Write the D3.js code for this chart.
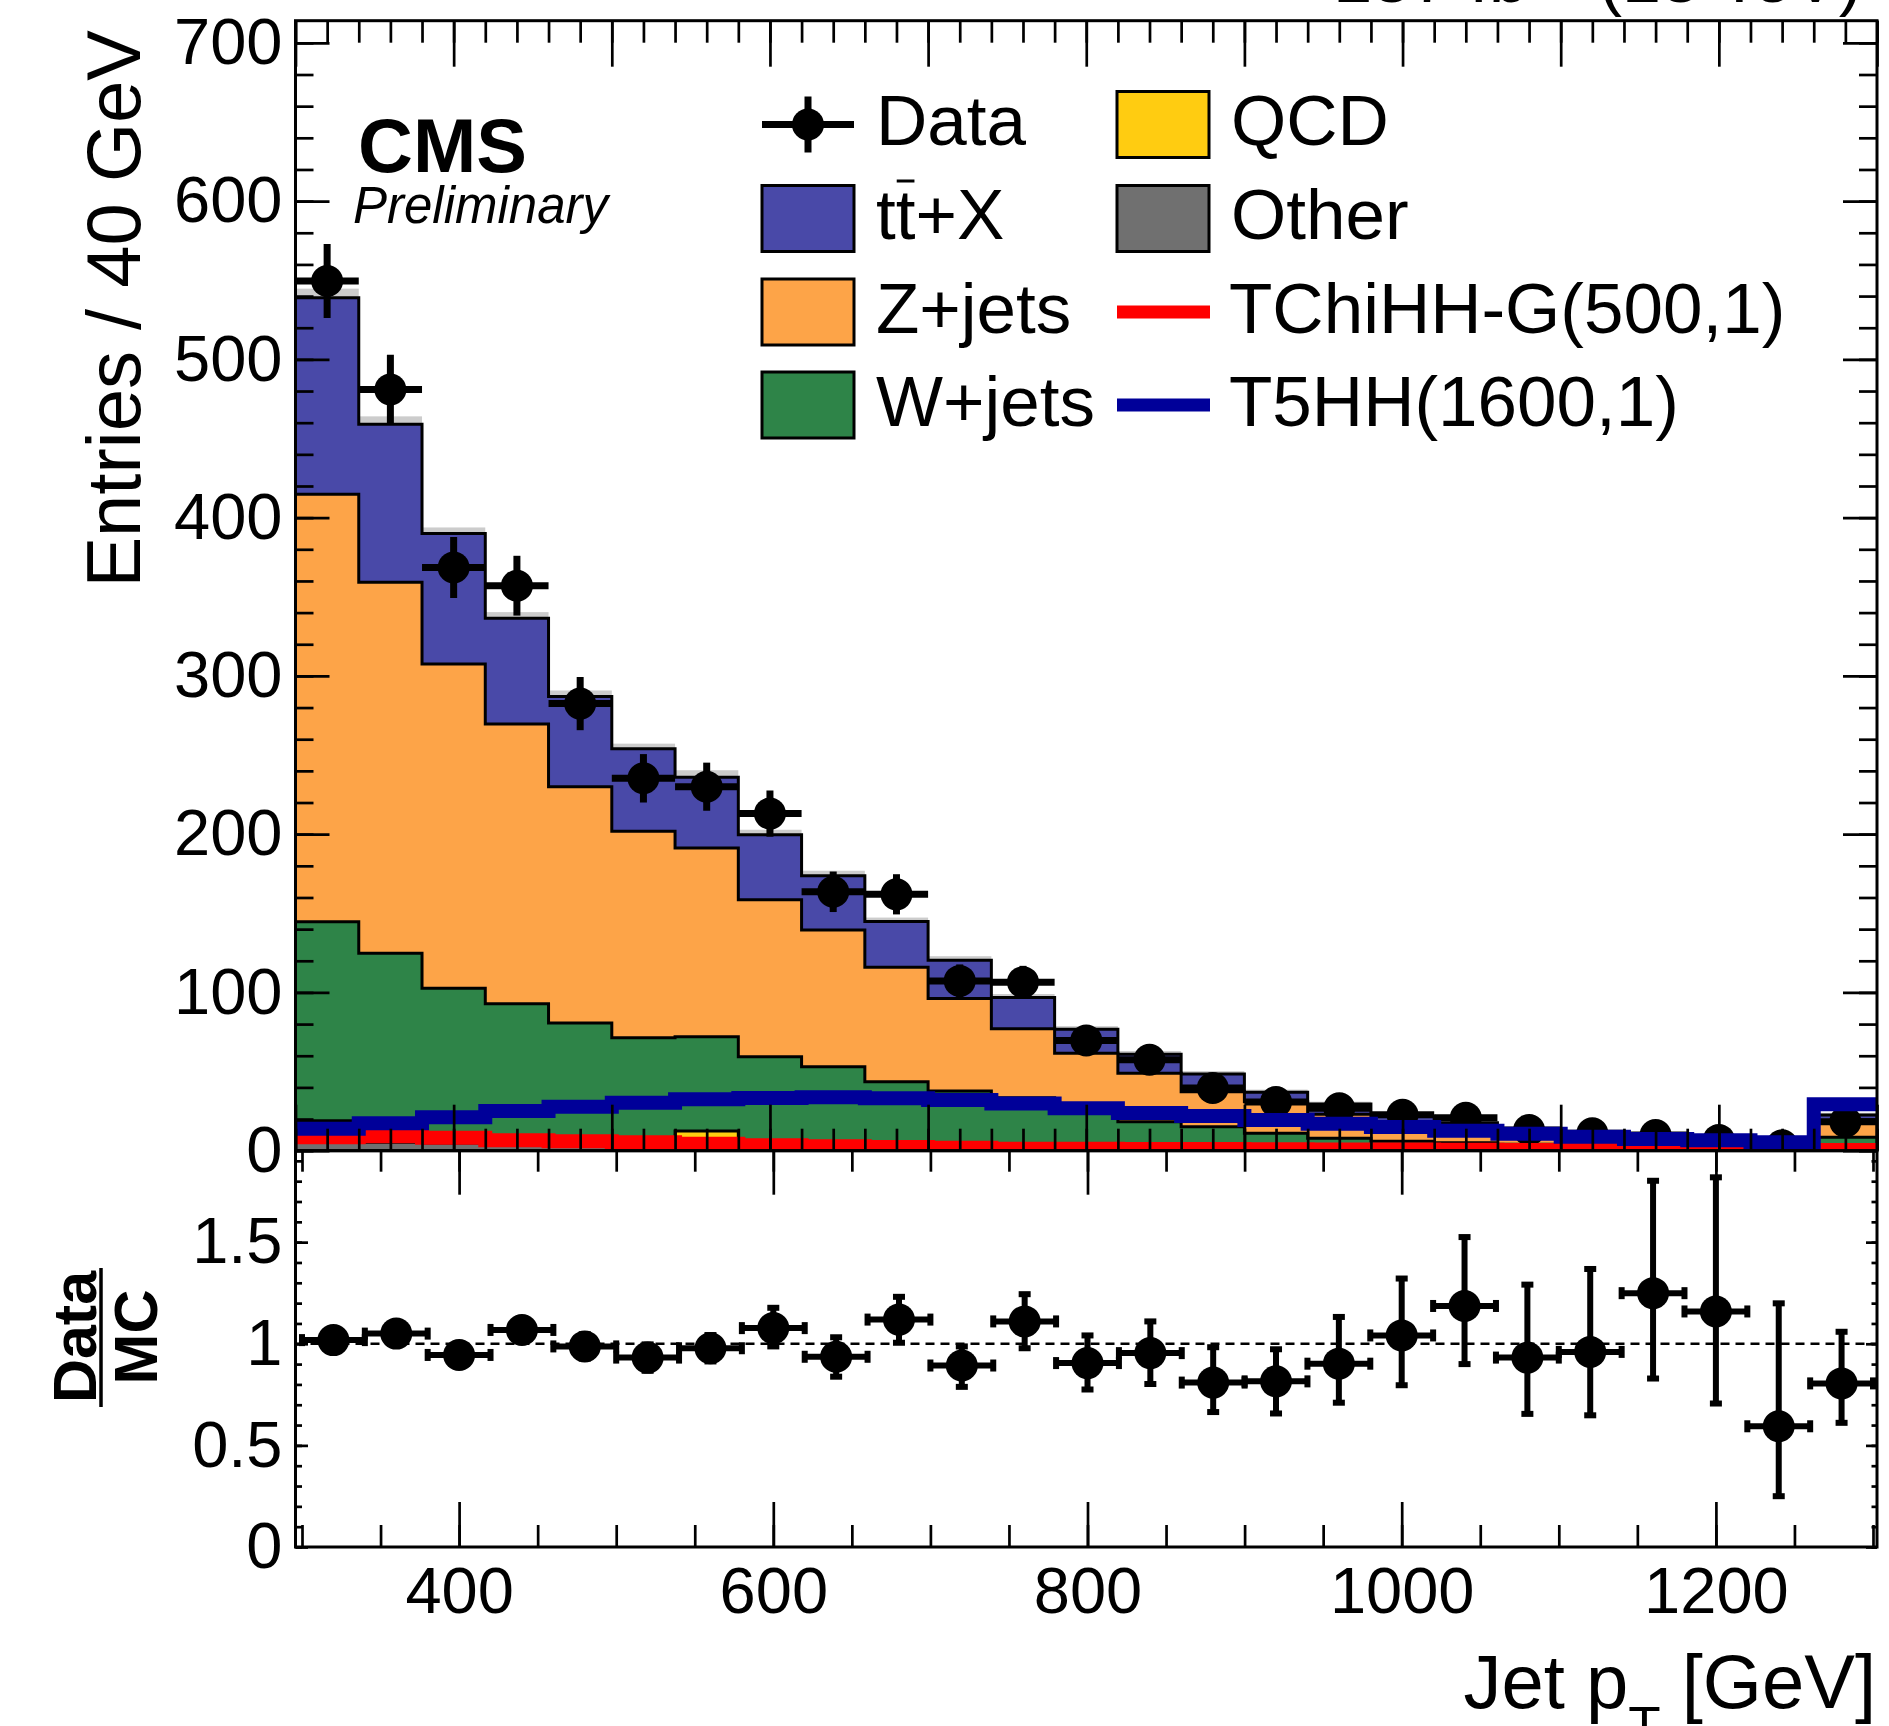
<!DOCTYPE html>
<html>
<head>
<meta charset="utf-8">
<script src="https://cdn.jsdelivr.net/npm/d3@7"></script>
<style>
body { margin: 0; background: #fff; }
svg { display: block; font-family: "Liberation Sans", Arial, Helvetica, sans-serif; }
</style>
</head>
<body>
<svg id="chart" width="1889" height="1726"></svg>
<script>
// bins of jet pT, 40 GeV wide, last one holds the overflow
var binLow = [300, 340, 380, 420, 460, 500, 540, 580, 620, 660, 700, 740, 780,
              820, 860, 900, 940, 980, 1020, 1060, 1100, 1140, 1180, 1220, 1260];
var binWidth = 40;

// background components (entries per bin)
var other = [4, 3.5, 3, 2.5, 2, 1.5, 1.5, 1.2, 1, 1, 0.8, 0.7, 0.6, 0.5, 0.5, 0.4, 0.3, 0.3, 0.3, 0.2, 0.2, 0.2, 0.1, 0.1, 0.5];
var qcd = [15, 1, 1, 1, 1, 1, 10.9, 0.8, 0.8, 0.5, 0.5, 0.5, 0.4, 0.4, 0.3, 0.3, 0.3, 0.2, 0.2, 0.2, 0.2, 0.1, 0.2, 0.1, 0.5];
var wjets = [125.6, 120.3, 98.7, 89.3, 77.7, 68.9, 59.6, 57.4, 51.3, 42.1, 36.4, 32.3, 26, 17.4, 14.4, 10.3, 7.2, 5.5, 4.5, 3.6, 3.1, 2.7, 2.2, 1.8, 7.5];
var zjets = [270.2, 234.4, 204.9, 176.8, 149.3, 130.5, 119.2, 99.1, 86.4, 72.3, 58.5, 43.5, 34.5, 30.6, 22.1, 20, 15.2, 11.5, 9, 7, 5.5, 3.5, 2.3, 2.5, 9.8];
var ttx = [124.2, 99.8, 82.4, 66.9, 57, 52.1, 44.8, 41.1, 34.2, 28.9, 24.2, 19.8, 15.2, 12.1, 11.2, 6, 6.5, 4.3, 3.6, 2.9, 2.5, 1.4, 1, 1.2, 4.2];
var mcUnc = [5.7, 5, 3.8, 3.8, 3.8, 3.2, 4.4, 3.2, 3.2, 2.5, 2.5, 2.2, 2, 2, 1.8, 1.6, 1.5, 1.3, 1.2, 1.1, 1, 0.9, 0.8, 0.8, 1.5];

// data
var dataVal = [549.5, 481, 368.5, 357, 282.5, 235.3, 230, 213, 163.6, 162, 107.3, 106.5, 69.7, 57.5, 39.6, 30.8, 26.8, 22.7, 20.8, 13.1, 11, 9.9, 6.8, 3.4, 18.3];
var dataErr = [23.4, 21.9, 19.2, 18.9, 16.8, 15.3, 15.2, 14.6, 12.8, 12.7, 10.4, 10.3, 8.3, 7.6, 6.3, 5.5, 5.2, 4.8, 4.6, 3.6, 3.3, 3.1, 2.6, 1.8, 4.3];

// signals
var tchihh = [8.5, 9.1, 8.2, 6.6, 5.9, 5.3, 4.4, 3.4, 2.8, 2.3, 1.9, 1.3, 1.2, 1.1, 1.0, 0.9, 0.8, 0.7, 0.6, 0.5, 0.4, 0.3, 0.2, 0.2, 0.5];
var t5hh = [13.9, 17.3, 21.1, 25.1, 27.8, 30.3, 32.5, 33.3, 33.7, 33.1, 32, 29.8, 26.8, 23.8, 21.9, 19.4, 17.1, 15, 12.6, 10.7, 8.8, 7.4, 6.6, 5.3, 29.4];

// data / MC
var ratio = [1.018, 1.05, 0.945, 1.068, 0.987, 0.932, 0.978, 1.077, 0.936, 1.119, 0.893, 1.11, 0.905, 0.954, 0.809, 0.815, 0.902, 1.041, 1.186, 0.932, 0.96, 1.249, 1.159, 0.594, 0.805];
var ratioErrUp = [0.035, 0.04, 0.05, 0.055, 0.06, 0.065, 0.065, 0.1, 0.096, 0.112, 0.094, 0.134, 0.136, 0.156, 0.174, 0.158, 0.23, 0.28, 0.339, 0.359, 0.408, 0.553, 0.66, 0.605, 0.254];
var ratioErrDn = [0.035, 0.04, 0.05, 0.055, 0.06, 0.065, 0.065, 0.09, 0.098, 0.114, 0.105, 0.132, 0.13, 0.152, 0.145, 0.158, 0.192, 0.245, 0.286, 0.277, 0.312, 0.42, 0.453, 0.344, 0.194];

// tick labels
var yTicks = [0, 100, 200, 300, 400, 500, 600, 700];
var ratioTicks = [0, 0.5, 1, 1.5];
var xTicks = [400, 600, 800, 1000, 1200];

var keys = ["other", "qcd", "wjets", "zjets", "ttx"];
var colors = {
    other: "#707070",
    qcd: "#ffcc11",
    wjets: "#2e8448",
    zjets: "#fda448",
    ttx: "#4949a8"
};

var pad = {left: 295.5, right: 1877, top: 20.7, mid: 1150.7, bottom: 1547};
var tickFont = 65;

var svg = d3.select("#chart");

var x = d3.scaleLinear().domain([300, 1300]).range([pad.left, pad.right]);
var y = d3.scaleLinear().domain([0, 714]).range([pad.mid, pad.top]);
var xr = d3.scaleLinear().domain([300, 1300]).range([302, 1873]);
var yr = d3.scaleLinear().domain([0, 1.95]).range([pad.bottom, pad.mid]);

function step_points(values) {
    var pts = [];
    values.forEach(function (v, i) {
        pts.push([binLow[i], v]);
        pts.push([binLow[i] + binWidth, v]);
    });
    return pts;
}

var area = d3.area()
    .x(function (d) { return x(d[0]); })
    .y0(y(0))
    .y1(function (d) { return y(d[1]); });

var line = d3.line()
    .x(function (d) { return x(d[0]); })
    .y(function (d) { return y(d[1]); });

svg.append("defs").append("clipPath")
    .attr("id", "clip_top")
    .append("rect")
    .attr("x", pad.left)
    .attr("y", pad.top)
    .attr("width", pad.right - pad.left)
    .attr("height", pad.mid - pad.top);

var plot = svg.append("g").attr("clip-path", "url(#clip_top)");

// stack table
var rows = binLow.map(function (lo, i) {
    return {lo: lo, other: other[i], qcd: qcd[i], wjets: wjets[i], zjets: zjets[i], ttx: ttx[i]};
});
var layers = d3.stack().keys(keys)(rows);
var totals = layers[layers.length - 1].map(function (d) { return d[1]; });

// MC uncertainty band, sits under the stack
plot.append("g")
    .selectAll("rect")
    .data(binLow)
    .enter()
    .append("rect")
    .attr("x", function (d) { return x(d); })
    .attr("width", function (d) { return x(d + binWidth) - x(d); })
    .attr("y", function (d, i) { return y(totals[i] + mcUnc[i]); })
    .attr("height", function (d, i) { return y(totals[i] - mcUnc[i]) - y(totals[i] + mcUnc[i]); })
    .attr("fill", "#cccccc");

// stacked histograms, drawn from the top one down
layers.slice().reverse().forEach(function (layer) {
    var pts = step_points(layer.map(function (d) { return d[1]; }));
    plot.append("path")
        .attr("d", area(pts))
        .attr("fill", colors[layer.key]);
    plot.append("path")
        .attr("d", line([[300, 0]].concat(pts, [[1300, 0]])))
        .attr("fill", "none")
        .attr("stroke", layer.key === "other" ? colors.other : "#000")
        .attr("stroke-width", 3);
});

// data points
var dg = plot.append("g");
dataVal.forEach(function (v, i) {
    var cx = x(binLow[i] + binWidth / 2);
    dg.append("line")
        .attr("x1", cx).attr("x2", cx)
        .attr("y1", y(v - dataErr[i])).attr("y2", y(v + dataErr[i]))
        .attr("stroke", "#000").attr("stroke-width", 7);
    dg.append("line")
        .attr("x1", x(binLow[i])).attr("x2", x(binLow[i] + binWidth))
        .attr("y1", y(v)).attr("y2", y(v))
        .attr("stroke", "#000").attr("stroke-width", 7);
    dg.append("circle")
        .attr("cx", cx).attr("cy", y(v)).attr("r", 16)
        .attr("fill", "#000");
});

// signal curves on top
[[tchihh, "#ff0000"], [t5hh, "#000099"]].forEach(function (s) {
    plot.append("path")
        .attr("d", line(step_points(s[0])))
        .attr("fill", "none")
        .attr("stroke", s[1])
        .attr("stroke-width", 14)
        .attr("stroke-linejoin", "miter");
});

// ----- ratio pad -----
svg.append("line")
    .attr("x1", pad.left).attr("x2", pad.right)
    .attr("y1", yr(1)).attr("y2", yr(1))
    .attr("stroke", "#000").attr("stroke-width", 2.5)
    .attr("stroke-dasharray", "9,6");

var rg = svg.append("g");
ratio.forEach(function (r, i) {
    var cx = xr(binLow[i] + binWidth / 2);
    var x1 = xr(binLow[i]), x2 = xr(binLow[i] + binWidth);
    var yt = yr(r + ratioErrUp[i]), yb = yr(r - ratioErrDn[i]);
    rg.append("line")
        .attr("x1", cx).attr("x2", cx).attr("y1", yt).attr("y2", yb)
        .attr("stroke", "#000").attr("stroke-width", 6);
    rg.append("line")
        .attr("x1", x1).attr("x2", x2).attr("y1", yr(r)).attr("y2", yr(r))
        .attr("stroke", "#000").attr("stroke-width", 6);
    [yt, yb].forEach(function (yy) {
        rg.append("rect").attr("x", cx - 6).attr("y", yy - 3).attr("width", 12).attr("height", 6);
    });
    [x1, x2].forEach(function (xx) {
        rg.append("rect").attr("x", xx - 3).attr("y", yr(r) - 6).attr("width", 6).attr("height", 12);
    });
    rg.append("circle")
        .attr("cx", cx).attr("cy", yr(r)).attr("r", 16)
        .attr("fill", "#000");
});

// ----- axes -----
function style_axis(g) {
    g.select(".domain").remove();
    g.selectAll(".tick line").attr("stroke", "#000").attr("stroke-width", 2.7);
    g.selectAll(".tick text")
        .attr("fill", "#000")
        .attr("font-size", tickFont)
        .attr("font-family", "'Liberation Sans', Arial, sans-serif");
}

function add_axis(axis, tx, ty) {
    svg.append("g")
        .attr("transform", "translate(" + tx + "," + ty + ")")
        .call(axis)
        .call(style_axis);
}

// upper pad
add_axis(d3.axisLeft(y).tickValues(y.ticks(36)).tickSize(-18).tickFormat(""), pad.left, 0);
add_axis(d3.axisLeft(y).tickValues(yTicks).tickSize(-34).tickPadding(13).tickFormat(d3.format("d")), pad.left, 0);
add_axis(d3.axisRight(y).tickValues(y.ticks(36)).tickSize(-18).tickFormat(""), pad.right, 0);
add_axis(d3.axisRight(y).tickValues(yTicks).tickSize(-34).tickFormat(""), pad.right, 0);
add_axis(d3.axisBottom(x).tickValues(x.ticks(50)).tickSize(-22).tickFormat(""), 0, pad.mid);
add_axis(d3.axisBottom(x).tickValues(x.ticks(10)).tickSize(-46).tickFormat(""), 0, pad.mid);
add_axis(d3.axisTop(x).tickValues(x.ticks(50)).tickSize(-22).tickFormat(""), 0, pad.top);
add_axis(d3.axisTop(x).tickValues(x.ticks(10)).tickSize(-46).tickFormat(""), 0, pad.top);

// ratio pad
add_axis(d3.axisLeft(yr).tickValues(yr.ticks(20)).tickSize(-6.5).tickFormat(""), pad.left, 0);
add_axis(d3.axisLeft(yr).tickValues(ratioTicks).tickSize(-12.5).tickPadding(13).tickFormat(function (d) { return String(d); }), pad.left, 0);
add_axis(d3.axisRight(yr).tickValues(yr.ticks(20)).tickSize(-5.5).tickFormat(""), pad.right, 0);
add_axis(d3.axisRight(yr).tickValues(ratioTicks).tickSize(-11).tickFormat(""), pad.right, 0);
add_axis(d3.axisBottom(xr).tickValues(xr.ticks(20)).tickSize(-22).tickFormat(""), 0, pad.bottom);
add_axis(d3.axisBottom(xr).tickValues(xTicks).tickSize(-45).tickPadding(20).tickFormat(d3.format("d")), 0, pad.bottom);
add_axis(d3.axisTop(xr).tickValues(xr.ticks(20)).tickSize(-21).tickFormat(""), 0, pad.mid);
add_axis(d3.axisTop(xr).tickValues(xTicks).tickSize(-44).tickFormat(""), 0, pad.mid);

// frames
svg.append("rect")
    .attr("x", pad.left).attr("y", pad.top)
    .attr("width", pad.right - pad.left).attr("height", pad.mid - pad.top)
    .attr("fill", "none").attr("stroke", "#000").attr("stroke-width", 3);
svg.append("rect")
    .attr("x", pad.left).attr("y", pad.mid)
    .attr("width", pad.right - pad.left).attr("height", pad.bottom - pad.mid)
    .attr("fill", "none").attr("stroke", "#000").attr("stroke-width", 3);

// ----- titles -----
svg.append("text")
    .attr("transform", "translate(140,30) rotate(-90)")
    .attr("text-anchor", "end")
    .attr("font-size", 76)
    .text("Entries / 40 GeV");

var ratioTitle = svg.append("g").attr("font-weight", "bold").attr("font-size", 61);
ratioTitle.append("text")
    .attr("transform", "translate(96,1337) rotate(-90)")
    .attr("text-anchor", "middle")
    .text("Data");
ratioTitle.append("text")
    .attr("transform", "translate(157,1337) rotate(-90)")
    .attr("text-anchor", "middle")
    .text("MC");
svg.append("line")
    .attr("x1", 101).attr("x2", 101).attr("y1", 1268).attr("y2", 1407)
    .attr("stroke", "#000").attr("stroke-width", 3.5);

var xTitle = svg.append("text")
    .attr("x", 1876).attr("y", 1708)
    .attr("text-anchor", "end")
    .attr("font-size", 76);
xTitle.append("tspan").text("Jet p");
xTitle.append("tspan").attr("font-size", 53).attr("dy", 36).text("T");
xTitle.append("tspan").attr("dy", -36).text(" [GeV]");

svg.append("text")
    .attr("x", 358).attr("y", 172)
    .attr("font-size", 76).attr("font-weight", "bold")
    .text("CMS");
svg.append("text")
    .attr("x", 353).attr("y", 223)
    .attr("font-size", 51).attr("font-style", "italic")
    .text("Preliminary");

var lumi = svg.append("text")
    .attr("x", 1862).attr("y", 2)
    .attr("text-anchor", "end")
    .attr("font-size", 70);
lumi.append("tspan").text("137 fb");
lumi.append("tspan").attr("font-size", 45).attr("dy", -28).text("\u22121");
lumi.append("tspan").attr("dy", 28).text(" (13 TeV)");

// ----- legend -----
var legendBase = [145, 239, 332.5, 425.5];
var legendFont = 71;
var leg = svg.append("g").attr("font-size", legendFont);

function legend_text(px, row, label) {
    return leg.append("text").attr("x", px).attr("y", legendBase[row]).text(label);
}
function legend_box(px, row, fill) {
    var cy = legendBase[row] - 20.5;
    leg.append("rect")
        .attr("x", px).attr("y", cy - 33).attr("width", 92).attr("height", 66)
        .attr("fill", fill).attr("stroke", "#000").attr("stroke-width", 3);
}
function legend_line(px, row, color) {
    var cy = legendBase[row] - 20.5;
    leg.append("line")
        .attr("x1", px).attr("x2", px + 93).attr("y1", cy).attr("y2", cy)
        .attr("stroke", color).attr("stroke-width", 13);
}

var c1 = 762, c2 = 1117;
var cyData = legendBase[0] - 20.5;
leg.append("line").attr("x1", c1).attr("x2", c1 + 92).attr("y1", cyData).attr("y2", cyData)
    .attr("stroke", "#000").attr("stroke-width", 7);
leg.append("line").attr("x1", c1 + 46).attr("x2", c1 + 46).attr("y1", cyData - 28).attr("y2", cyData + 28)
    .attr("stroke", "#000").attr("stroke-width", 7);
leg.append("circle").attr("cx", c1 + 46).attr("cy", cyData).attr("r", 16).attr("fill", "#000");
legend_text(876, 0, "Data");

legend_box(c1, 1, colors.ttx);
var ttText = legend_text(876, 1, "tt+X");
legend_box(c1, 2, colors.zjets);
legend_text(876, 2, "Z+jets");
legend_box(c1, 3, colors.wjets);
legend_text(876, 3, "W+jets");

legend_box(c2, 0, colors.qcd);
legend_text(1231, 0, "QCD");
legend_box(c2, 1, colors.other);
legend_text(1231, 1, "Other");
legend_line(c2, 2, "#ff0000");
legend_text(1229, 2, "TChiHH-G(500,1)");
legend_line(c2, 3, "#000099");
legend_text(1229, 3, "T5HH(1600,1)");

// bar over the second t of tt+X
var tNode = ttText.node();
var tStart = tNode.getStartPositionOfChar(1).x;
var tLen = tNode.getSubStringLength(1, 1);
leg.append("line")
    .attr("x1", tStart + 1).attr("x2", tStart + tLen - 1)
    .attr("y1", legendBase[1] - 58).attr("y2", legendBase[1] - 58)
    .attr("stroke", "#000").attr("stroke-width", 3);
</script>
</body>
</html>
